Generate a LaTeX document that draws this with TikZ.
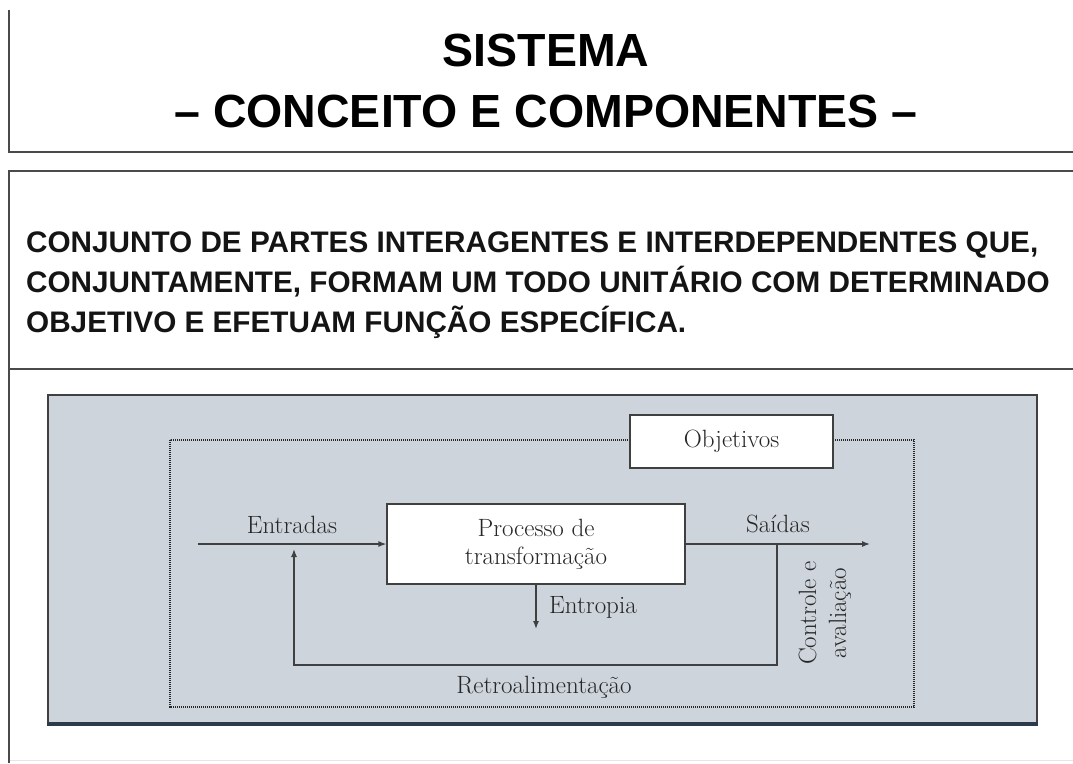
\documentclass[tikz,border=0pt]{standalone}
\usepackage{fontspec}
\setsansfont{Liberation Sans}
\usetikzlibrary{arrows.meta}
\definecolor{panel}{HTML}{CDD4DB}
\definecolor{framecol}{HTML}{4A4A4A}
\definecolor{diagtext}{HTML}{262626}
\definecolor{linecol}{HTML}{404040}
\definecolor{panelbottom}{HTML}{2C3A4A}
\tikzset{
  frame/.style={line width=2pt, draw=framecol},
  faintline/.style={line width=1pt, draw=black!10},
  box/.style={draw=linecol, line width=1.3pt, fill=white, inner sep=0pt, font=\fontsize{25}{28}\selectfont, text=diagtext},
  lbl/.style={inner sep=0pt, font=\fontsize{25}{30}\selectfont, text=diagtext},
  arr/.style={draw=linecol, line width=1.3pt, -{Latex[length=8pt,width=6pt]}},
  dotframe/.style={draw=black!85, line width=1.8pt, dash pattern=on 1.2pt off 0.8pt},
  titletext/.style={inner sep=0pt, font=\sffamily\bfseries\fontsize{46.5}{50}\selectfont},
  bodytext/.style={inner sep=0pt, font=\sffamily\bfseries\fontsize{29.7}{33}\selectfont, text=black!92}
}
\begin{document}
\begin{tikzpicture}[x=1pt,y=-1pt]
\useasboundingbox (0,0) rectangle (1073,763);
\fill[white] (0,0) rectangle (1073,763);
% outer frames
\draw[frame] (8.5,10) -- (8.5,152) -- (1073,152);
\draw[frame] (1073,171) -- (8.5,171) -- (8.5,763);
\draw[frame] (8.5,369) -- (1073,369);
\draw[faintline] (9.5,760) -- (1073,760);
% title
\node[titletext, anchor=base] (t1) at (546,66) {SISTEMA};
\node[titletext, anchor=base] (t2) at (546,127) {– CONCEITO E COMPONENTES –};
% body text
\node[bodytext, anchor=base west] (b1) at (26,252) {CONJUNTO DE PARTES INTERAGENTES E INTERDEPENDENTES QUE,};
\node[bodytext, anchor=base west] (b2) at (26,292.5) {CONJUNTAMENTE, FORMAM UM TODO UNITÁRIO COM DETERMINADO};
\node[bodytext, anchor=base west] (b3) at (26,332.5) {OBJETIVO E EFETUAM FUNÇÃO ESPECÍFICA.};
% panel
\fill[panel] (48,395) rectangle (1037,725);
\draw[draw=black!75, line width=1.5pt] (48,724) -- (48,395) -- (1037,395) -- (1037,724);
\draw[draw=panelbottom, line width=3.5pt] (47.25,724) -- (1037.75,724);
% dotted system boundary
\draw[dotframe] (170,440) rectangle (914,707);
% nodes
\node[box, minimum width=203pt, minimum height=53pt] (obj) at (731.5,441.5) {Objetivos};
\node[box, minimum width=298pt, minimum height=80pt, align=center] (proc) at (536,544) {Processo de\\transformação};
% inputs / outputs
\coordinate (inStart) at (198,544);
\coordinate (outEnd) at (870,544);
\draw[arr] (inStart) -- (proc.west);
\draw[arr] (proc.east) -- (outEnd);
\node[lbl, anchor=base] (entradas) at (292,533) {Entradas};
\node[lbl, anchor=base] (saidas) at (778,532) {Saídas};
% entropy
\coordinate (entEnd) at (536,629);
\draw[arr] (proc.south) -- (entEnd);
\node[lbl, anchor=base west] (entropia) at (549,613) {Entropia};
% feedback
\coordinate (fbTop) at (777,544);
\coordinate (fbBot) at (777,665);
\coordinate (fbLeft) at (294,665);
\coordinate (fbTip) at (294,549);
\draw[arr] (fbTop) -- (fbBot) -- (fbLeft) -- (fbTip);
\node[lbl, rotate=90, align=center] (ctrl) at (825,613) {Controle e\\avaliação};
\node[lbl, anchor=base] (retro) at (544,693) {Retroalimentação};
\end{tikzpicture}
\end{document}
